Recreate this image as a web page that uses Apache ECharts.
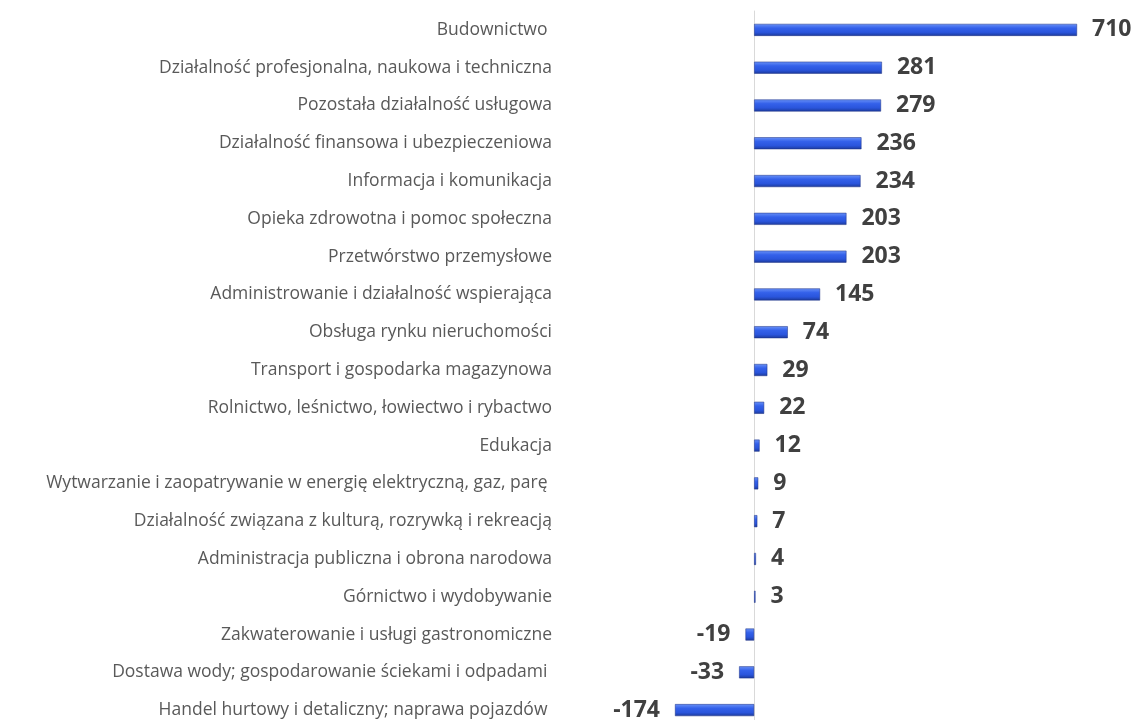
<!DOCTYPE html>
<html>
<head>
<meta charset="utf-8">
<script src="https://cdn.jsdelivr.net/npm/echarts@6/dist/echarts.min.js"></script>
<style>
  html, body { margin: 0; padding: 0; background: #fff; overflow: hidden; }
  #chart { width: 1139px; height: 729px; }
</style>
</head>
<body>
<div id="chart"></div>
<script>
// sekcje (od góry)
const categories = [
  'Budownictwo ',
  'Działalność profesjonalna, naukowa i techniczna',
  'Pozostała działalność usługowa',
  'Działalność finansowa i ubezpieczeniowa',
  'Informacja i komunikacja',
  'Opieka zdrowotna i pomoc społeczna',
  'Przetwórstwo przemysłowe',
  'Administrowanie i działalność wspierająca',
  'Obsługa rynku nieruchomości',
  'Transport i gospodarka magazynowa',
  'Rolnictwo, leśnictwo, łowiectwo i rybactwo',
  'Edukacja',
  'Wytwarzanie i zaopatrywanie w energię elektryczną, gaz, parę ',
  'Działalność związana z kulturą, rozrywką i rekreacją',
  'Administracja publiczna i obrona narodowa',
  'Górnictwo i wydobywanie',
  'Zakwaterowanie i usługi gastronomiczne',
  'Dostawa wody; gospodarowanie ściekami i odpadami ',
  'Handel hurtowy i detaliczny; naprawa pojazdów '
];
const values = [710, 281, 279, 236, 234, 203, 203, 145, 74, 29, 22, 12, 9, 7, 4, 3, -19, -33, -174];

const chart = echarts.init(document.getElementById('chart'));

const barGradient = new echarts.graphic.LinearGradient(0, 0, 0, 1, [
  { offset: 0, color: '#6a92f7' },
  { offset: 0.35, color: '#3461ea' },
  { offset: 0.7, color: '#2a55dc' },
  { offset: 1, color: '#1c3a9c' }
]);

chart.setOption({
  animation: false,
  grid: {
    left: 675,
    right: 62,
    top: 11,
    bottom: 0
  },
  xAxis: {
    type: 'value',
    min: -174,
    max: 710,
    show: false
  },
  yAxis: {
    type: 'category',
    inverse: true,
    data: categories,
    axisTick: { show: false },
    axisLine: { show: true, lineStyle: { color: '#d9d9d9', width: 1 } },
    axisLabel: {
      margin: 123,
      color: '#595959',
      fontFamily: 'Open Sans',
      fontSize: 17.5
    }
  },
  series: [{
    type: 'bar',
    data: values.map(v => ({
      value: v,
      label: { position: v < 0 ? 'left' : 'right' }
    })),
    barWidth: 12,
    itemStyle: {
      color: barGradient,
      borderColor: '#1a2f80',
      borderWidth: 0.5
    },
    label: {
      show: true,
      distance: 15,
      color: '#404040',
      fontFamily: 'Open Sans',
      fontWeight: 'bold',
      fontSize: 23
    }
  }]
});
</script>
</body>
</html>
